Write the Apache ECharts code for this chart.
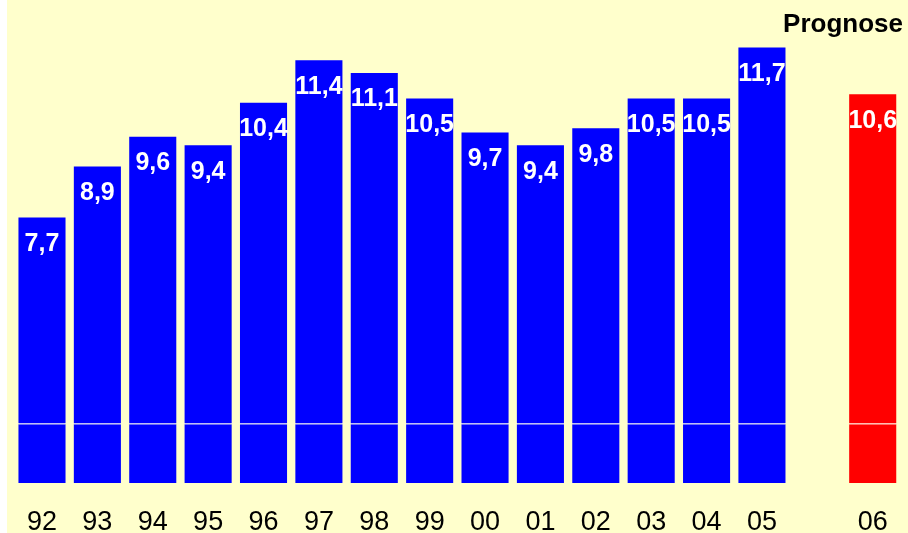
<!DOCTYPE html>
<html>
<head>
<meta charset="utf-8">
<script src="https://cdn.jsdelivr.net/npm/echarts@6/dist/echarts.min.js"></script>
<style>
    html, body { margin: 0; padding: 0; background: #fff; }
    #main { position: absolute; left: 7px; top: 0; width: 901px; height: 533px; }
</style>
</head>
<body>
<div id="main"></div>
<script>
    // Jahre (leere Kategorie als Abstand vor der Prognose)
    const years = ['92', '93', '94', '95', '96', '97', '98', '99', '00', '01', '02', '03', '04', '05', '', '06'];
    const values = [7.7, 8.9, 9.6, 9.4, 10.4, 11.4, 11.1, 10.5, 9.7, 9.4, 9.8, 10.5, 10.5, 11.7, null, 10.6];
    const forecastYear = '06';

    // weisse Trennlinie im unteren Teil der Balken
    const breakAt = 2.83;
    const breakGap = 0.025;

    const colorOf = (i) => years[i] === forecastYear ? '#ff0000' : '#0000ff';
    const fmt = (v) => v.toFixed(1).replace('.', ',');

    const base = values.map((v, i) => v == null ? null : {value: breakAt, itemStyle: {color: colorOf(i)}});
    const gap = values.map((v) => v == null ? null : breakGap);
    const upper = values.map((v, i) => v == null ? null : {value: v - breakAt - breakGap, itemStyle: {color: colorOf(i)}});

    const myChart = echarts.init(document.getElementById('main'));
    myChart.setOption({
        backgroundColor: '#ffffcc',
        animation: false,
        title: {
            text: 'Prognose',
            right: 0,
            top: 7,
            textStyle: {fontFamily: 'Liberation Sans, Arial', fontSize: 26, fontWeight: 'bold', color: '#000'}
        },
        grid: {left: 7.3, right: 7.6, top: 13.4, bottom: 50, containLabel: false, outerBoundsMode: 'none'},
        xAxis: {
            type: 'category',
            data: years,
            axisLine: {show: false},
            axisTick: {show: false},
            axisLabel: {
                margin: 26,
                interval: 0,
                fontFamily: 'Liberation Sans, Arial',
                fontSize: 27,
                color: '#000'
            }
        },
        yAxis: {
            type: 'value',
            min: 1.45,
            max: 12.5,
            show: false,
            splitLine: {show: false}
        },
        series: [
            {
                type: 'bar',
                stack: 'a',
                barCategoryGap: '15%',
                data: base
            },
            {
                type: 'bar',
                stack: 'a',
                itemStyle: {color: '#ffffff'},
                data: gap
            },
            {
                type: 'bar',
                stack: 'a',
                data: upper,
                label: {
                    show: true,
                    position: 'insideTop',
                    distance: 14,
                    formatter: (p) => fmt(values[p.dataIndex]),
                    fontFamily: 'Liberation Sans, Arial',
                    fontSize: 25,
                    fontWeight: 'bold',
                    color: '#fff'
                }
            }
        ]
    });
</script>
</body>
</html>
